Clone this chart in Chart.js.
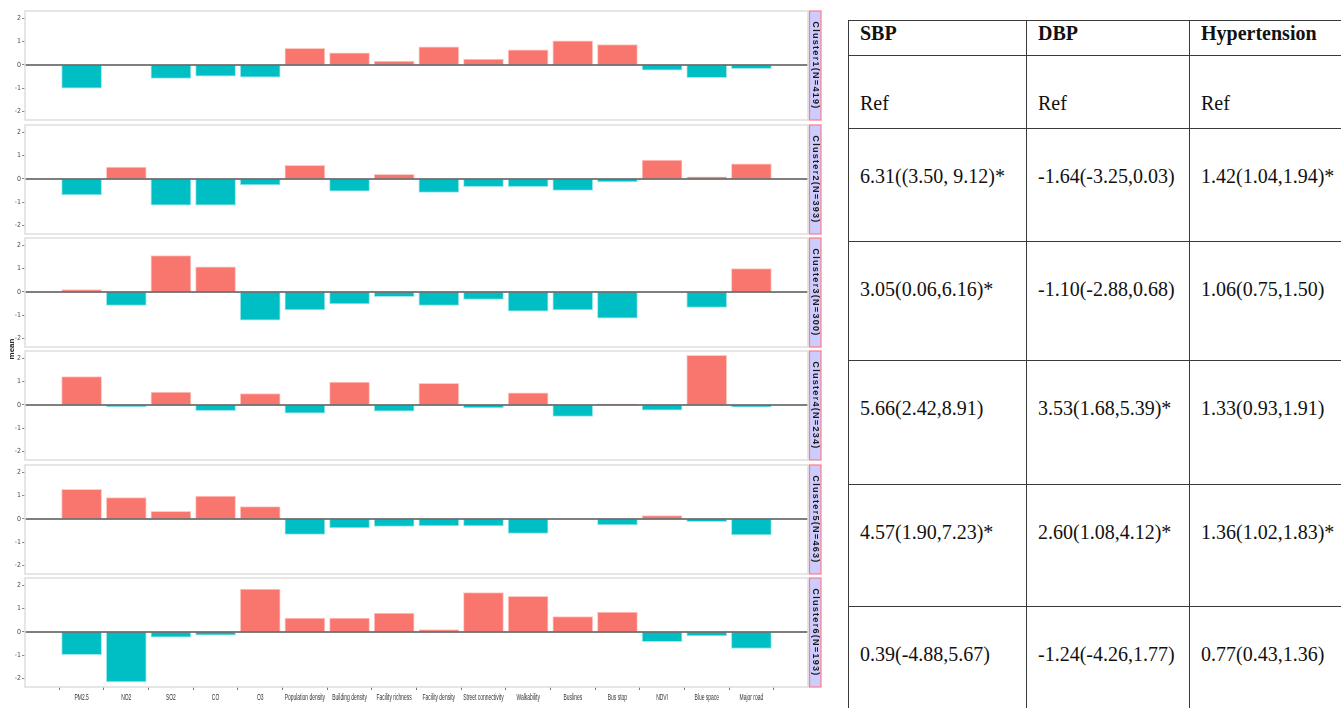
<!DOCTYPE html>
<html lang="en">
<head>
<meta charset="UTF-8">
<title>Cluster profiles and blood pressure</title>
<style>
body {
    margin: 0;
    width: 1341px;
    height: 708px;
    overflow: hidden;
    position: relative;
    background: #fff;
    font-family: 'Liberation Sans', Arial, sans-serif;
}

/* one canvas per facet, stacked */
.panel {
    position: absolute;
    left: 0;
}

.ytitle {
    position: absolute;
    left: -8px;
    top: 344px;
    width: 40px;
    height: 10px;
    line-height: 10px;
    text-align: center;
    font-size: 8px;
    font-weight: bold;
    color: #222;
    transform: rotate(-90deg);
}

/* results table on the right */
table {
    position: absolute;
    left: 848px;
    top: 20px;
    width: 541px;
    border-collapse: collapse;
    table-layout: fixed;
    font-family: 'Liberation Serif', 'Times New Roman', serif;
    font-size: 20px;
    color: #111;
}

th, td {
    border: 1px solid #3a3a3a;
    vertical-align: top;
    text-align: left;
    padding: 36px 0 0 11px;
    line-height: 23px;
    white-space: nowrap;
}

th {
    padding-top: 1px;
}
</style>
<script src="https://cdn.jsdelivr.net/npm/chart.js"></script>
</head>
<body>

<div id="panels"></div>
<div class="ytitle">mean</div>

<table id="results">
    <colgroup>
        <col style="width:178px">
        <col style="width:163px">
        <col style="width:200px">
    </colgroup>
    <thead></thead>
    <tbody></tbody>
</table>

<script>
// variables on the x axis (same for all facets)
const categories = ["PM2.5", "NO2", "SO2", "CO", "O3", "Population density", "Building density",
    "Facility richness", "Facility density", "Street connectivity", "Walkability", "Buslines",
    "Bus stop", "NDVI", "Blue space", "Major road"];

const clusters = ["Cluster1(N=419)", "Cluster2(N=393)", "Cluster3(N=300)",
    "Cluster4(N=234)", "Cluster5(N=463)", "Cluster6(N=193)"];

const yTicks = [-2, -1, 0, 1, 2];

// standardized means per cluster
const cluster1 = [-1.00, 0.00, -0.58, -0.48, -0.52, 0.71, 0.52, 0.16, 0.77, 0.25, 0.65, 1.03, 0.87, -0.23, -0.55, -0.16];
const cluster2 = [-0.69, 0.51, -1.13, -1.13, -0.26, 0.58, -0.52, 0.20, -0.58, -0.33, -0.33, -0.49, -0.13, 0.81, 0.09, 0.65];
const cluster3 = [0.10, -0.58, 1.56, 1.07, -1.21, -0.77, -0.51, -0.20, -0.58, -0.32, -0.82, -0.77, -1.13, 0.00, -0.66, 1.00];
const cluster4 = [1.21, -0.07, 0.55, -0.25, 0.49, -0.35, 0.98, -0.27, 0.92, -0.13, 0.52, -0.49, 0.04, -0.22, 2.12, -0.09];
const cluster5 = [1.27, 0.91, 0.32, 0.98, 0.53, -0.66, -0.39, -0.32, -0.30, -0.30, -0.62, 0.00, -0.26, 0.14, -0.12, -0.69];
const cluster6 = [-0.97, -2.14, -0.23, -0.14, 1.84, 0.59, 0.59, 0.81, 0.10, 1.68, 1.53, 0.66, 0.85, -0.42, -0.17, -0.71];

// table contents
const tableHeaders = ["SBP", "DBP", "Hypertension"];
const sbp = ["Ref", "6.31((3.50, 9.12)*", "3.05(0.06,6.16)*", "5.66(2.42,8.91)", "4.57(1.90,7.23)*", "0.39(-4.88,5.67)"];
const dbp = ["Ref", "-1.64(-3.25,0.03)", "-1.10(-2.88,0.68)", "3.53(1.68,5.39)*", "2.60(1.08,4.12)*", "-1.24(-4.26,1.77)"];
const htn = ["Ref", "1.42(1.04,1.94)*", "1.06(0.75,1.50)", "1.33(0.93,1.91)", "1.36(1.02,1.83)*", "0.77(0.43,1.36)"];

const clusterMeans = [cluster1, cluster2, cluster3, cluster4, cluster5, cluster6];

// layout of the facets
const panelTops = [11, 124.5, 238, 351, 464.5, 578];
const panelHeight = 109;
const tickFont = "'Liberation Sans Narrow', 'DejaVu Sans Condensed', 'Liberation Sans', sans-serif";

// zero line, panel frame, strip on the right and squeezed x labels
const panelDecor = {
    id: 'panelDecor',
    afterDatasetsDraw(chart, args, opts) {
        const ctx = chart.ctx;
        const a = chart.chartArea;
        const y0 = chart.scales.y.getPixelForValue(0);
        ctx.save();
        ctx.strokeStyle = '#555';
        ctx.lineWidth = 1.5;
        ctx.beginPath();
        ctx.moveTo(a.left, y0);
        ctx.lineTo(a.right, y0);
        ctx.stroke();

        ctx.strokeStyle = '#dedede';
        ctx.lineWidth = 1.5;
        ctx.strokeRect(a.left, a.top, a.right - a.left, a.bottom - a.top);

        const sx = a.right + 1.5, sw = 11.5;
        ctx.fillStyle = '#ccccff';
        ctx.fillRect(sx, a.top, sw, a.bottom - a.top);
        ctx.strokeStyle = '#ff7a85';
        ctx.lineWidth = 1.2;
        ctx.strokeRect(sx, a.top, sw, a.bottom - a.top);

        ctx.translate(sx + sw / 2, (a.top + a.bottom) / 2);
        ctx.rotate(Math.PI / 2);
        ctx.font = "bold 9px 'Liberation Sans', Arial, sans-serif";
        ctx.letterSpacing = '1.3px';
        ctx.textAlign = 'center';
        ctx.textBaseline = 'middle';
        ctx.fillStyle = '#1a1a1a';
        ctx.fillText(opts.label, 0, 0);
        ctx.restore();
    },
    afterDraw(chart) {
        const x = chart.scales.x;
        if (!x.options.display) return;
        const ctx = chart.ctx;
        const top = chart.chartArea.bottom + 6;
        ctx.save();
        ctx.font = "9px 'Liberation Sans', Arial, sans-serif";
        ctx.fillStyle = '#333';
        ctx.textAlign = 'center';
        ctx.textBaseline = 'top';
        categories.forEach(function (label, i) {
            ctx.save();
            ctx.translate(x.getPixelForValue(i), top);
            ctx.scale(0.55, 1);
            ctx.fillText(label, 0, 0);
            ctx.restore();
        });
        ctx.restore();
    }
};

const holder = document.getElementById('panels');

clusterMeans.forEach(function (values, idx) {
    const last = idx === clusterMeans.length - 1;
    const canvas = document.createElement('canvas');
    canvas.className = 'panel';
    canvas.width = 824;
    canvas.height = panelHeight + (last ? 20 : 4);
    canvas.style.top = (panelTops[idx] - 2) + 'px';
    holder.appendChild(canvas);

    new Chart(canvas, {
        type: 'bar',
        data: {
            datasets: [{
                data: values.map((v, i) => ({ x: i, y: v })),
                backgroundColor: c => (c.raw && c.raw.y < 0) ? '#00bfc4' : '#f8766d',
                borderColor: c => (c.raw && c.raw.y < 0) ? '#9fe9eb' : '#ffc9c4',
                borderWidth: 1,
                barThickness: 40
            }]
        },
        options: {
            responsive: false,
            animation: false,
            layout: { padding: { top: 2, right: 16, bottom: last ? 0 : 2, left: 0 } },
            plugins: {
                legend: { display: false },
                tooltip: { enabled: false },
                panelDecor: { label: clusters[idx] }
            },
            scales: {
                x: {
                    type: 'linear',
                    display: last,
                    min: -0.72,
                    max: 15.72,
                    afterBuildTicks: s => { s.ticks = categories.map((c, i) => ({ value: i })); },
                    afterFit: s => { s.height = last ? 18 : 0; },
                    ticks: { display: false },
                    grid: { drawOnChartArea: false, tickLength: 3, tickColor: '#777' },
                    border: { display: false }
                },
                y: {
                    min: -2.36,
                    max: 2.31,
                    afterBuildTicks: s => { s.ticks = yTicks.map(v => ({ value: v })); },
                    // ticks sit well inside the range, so no extra room for half labels
                    afterFit: s => { s.width = 25; s.paddingTop = 0; s.paddingBottom = 0; },
                    ticks: {
                        padding: 1,
                        color: '#4d4d4d',
                        font: { family: tickFont, size: 7 }
                    },
                    grid: { drawOnChartArea: false, tickLength: 3, tickColor: '#888' },
                    border: { display: false }
                }
            }
        },
        plugins: [panelDecor]
    });
});

// build the table
const rowHeights = [35, 73, 113, 119, 124, 122, 130];
const thead = document.querySelector('#results thead');
const headRow = document.createElement('tr');
headRow.style.height = rowHeights[0] + 'px';
tableHeaders.forEach(function (h) {
    const th = document.createElement('th');
    th.textContent = h;
    headRow.appendChild(th);
});
thead.appendChild(headRow);

const tbody = document.querySelector('#results tbody');
sbp.forEach(function (s, i) {
    const tr = document.createElement('tr');
    tr.style.height = rowHeights[i + 1] + 'px';
    [s, dbp[i], htn[i]].forEach(function (txt) {
        const td = document.createElement('td');
        td.textContent = txt;
        tr.appendChild(td);
    });
    tbody.appendChild(tr);
});
</script>
</body>
</html>
